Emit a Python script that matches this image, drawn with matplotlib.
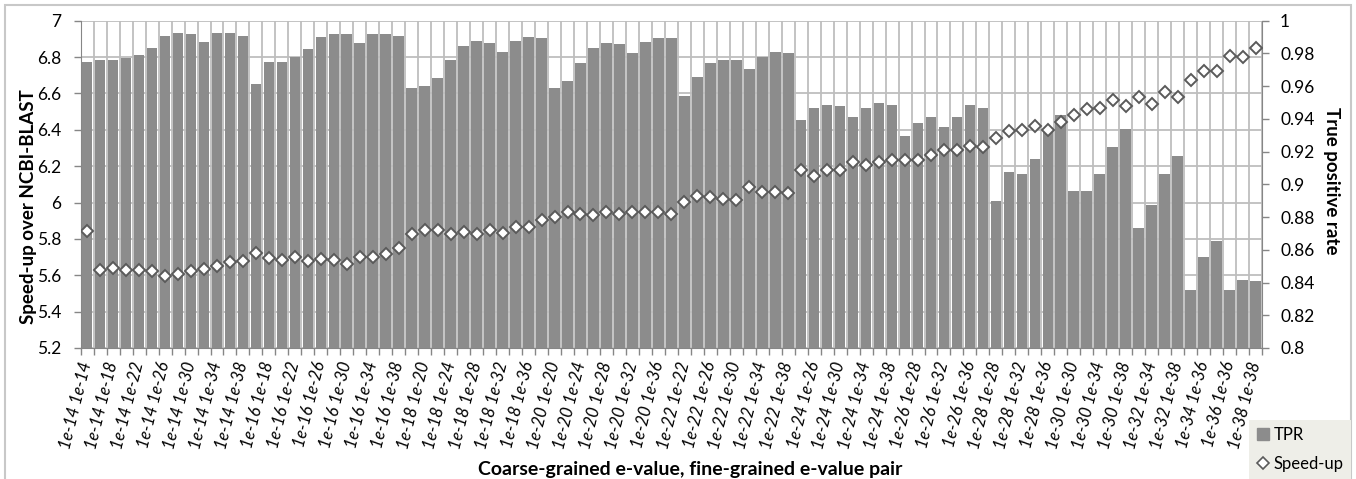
import numpy as np
import matplotlib
matplotlib.use("Agg")
import matplotlib.pyplot as plt
from matplotlib.patches import Rectangle, Patch
from matplotlib.lines import Line2D

plt.rcParams['font.family'] = ['Lato', 'DejaVu Sans']

# e-value exponents: coarse-grained, then fine-grained >= coarse
coarse_exp = list(range(14, 40, 2))
pairs = [(c, f) for c in coarse_exp for f in range(c, 40, 2)]
labels = ["1e-%d 1e-%d" % p for p in pairs]

# true positive rate (right axis)
tpr = [0.975, 0.976, 0.976, 0.977, 0.979, 0.9835, 0.9906, 0.9925, 0.9919, 0.9868,
       0.9925, 0.9925, 0.9906, 0.9611, 0.975, 0.975, 0.9776, 0.983, 0.990, 0.9919,
       0.9917, 0.9862, 0.9921, 0.9921, 0.9906, 0.9587, 0.9601, 0.9652, 0.9758, 0.9847,
       0.9876, 0.9862, 0.9809, 0.9876, 0.990, 0.9894, 0.9587, 0.9634, 0.9744, 0.9835,
       0.9862, 0.9856, 0.9803, 0.9868, 0.9894, 0.9894, 0.9542, 0.9658, 0.9744, 0.9762,
       0.9762, 0.9703, 0.9776, 0.9809, 0.9803, 0.9394, 0.9469, 0.9483, 0.9477, 0.9412,
       0.9469, 0.9497, 0.9483, 0.9296, 0.9373, 0.9412, 0.9353, 0.9412, 0.9483, 0.9465,
       0.8897, 0.9074, 0.9062, 0.9152, 0.9322, 0.9424, 0.8962, 0.8962, 0.9062, 0.9231,
       0.9337, 0.8734, 0.8873, 0.9062, 0.9172, 0.8352, 0.8553, 0.8651, 0.8352, 0.8417,
       0.8411]

# speed-up over NCBI-BLAST (left axis)
speedup = [5.842, 5.631, 5.642, 5.631, 5.631, 5.622, 5.598, 5.609, 5.622, 5.634,
           5.649, 5.671, 5.680, 5.722, 5.695, 5.682, 5.700, 5.678, 5.689, 5.684,
           5.662, 5.699, 5.700, 5.719, 5.750, 5.825, 5.851, 5.851, 5.825, 5.838,
           5.825, 5.847, 5.831, 5.866, 5.866, 5.904, 5.920, 5.946, 5.937, 5.930,
           5.946, 5.937, 5.946, 5.946, 5.946, 5.937, 6.005, 6.034, 6.029, 6.018,
           6.012, 6.084, 6.058, 6.058, 6.052, 6.177, 6.146, 6.181, 6.177, 6.221,
           6.206, 6.221, 6.236, 6.232, 6.236, 6.261, 6.287, 6.287, 6.313, 6.305,
           6.357, 6.392, 6.397, 6.423, 6.397, 6.441, 6.480, 6.514, 6.518, 6.562,
           6.529, 6.580, 6.542, 6.610, 6.579, 6.676, 6.725, 6.722, 6.804, 6.799,
           6.850]

speed_ticks = np.round(np.arange(5.2, 7.01, 0.2), 1)
tpr_ticks = np.round(np.arange(0.8, 1.001, 0.02), 2)

axis_grey = '#868686'
grid_grey = '#bebebe'
bar_grey = '#8c8c8c'

x = np.arange(len(pairs))

fig = plt.figure(figsize=(13.56, 4.79), dpi=100)
ax = fig.add_axes([0.0595, 0.2735, 0.8712, 0.6833])

# left axis: speed-up scale + gridlines
ax.set_xlim(-0.5, len(pairs) - 0.5)
ax.set_ylim(5.2, 7.0)
ax.set_yticks(speed_ticks)
ax.set_yticklabels(['%g' % t for t in speed_ticks])
ax.set_xticks(x[::2])
ax.set_xticklabels(labels[::2], rotation=76, ha='right', va='center',
                   rotation_mode='anchor', fontstyle='italic', fontsize=12)
ax.set_xticks(np.arange(-0.5, len(pairs)), minor=True)
ax.tick_params(axis='x', which='major', length=0, pad=10)
ax.tick_params(axis='x', which='minor', length=5, color=axis_grey, width=1)
ax.tick_params(axis='y', length=5, color=axis_grey, width=1, labelsize=12.5, pad=9)
ax.grid(axis='y', which='major', color=grid_grey, lw=1.3)
ax.grid(axis='x', which='minor', color=grid_grey, lw=1.3)
ax.set_axisbelow(True)
for s in ['top', 'right']:
    ax.spines[s].set_visible(False)
for s in ['left', 'bottom']:
    ax.spines[s].set_color(axis_grey)

# right axis: TPR bars
ax2 = ax.twinx()
ax2.bar(x, tpr, width=0.82, color=bar_grey, zorder=2)
ax2.set_ylim(0.8, 1.0)
ax2.set_yticks(tpr_ticks)
ax2.set_yticklabels(['%g' % t for t in tpr_ticks])
ax2.tick_params(axis='y', length=5, color=axis_grey, width=1, labelsize=12.5, pad=8)
for s in ['top', 'left', 'bottom']:
    ax2.spines[s].set_visible(False)
ax2.spines['right'].set_color(axis_grey)

# speed-up markers on top of the bars
ax3 = ax.twinx()
ax3.set_ylim(5.2, 7.0)
ax3.plot(x, speedup, ls='none', marker='D', ms=6.2, mfc='white',
         mec='#5a5a5a', mew=1.4, zorder=3)
ax3.axis('off')

fig.text(0.021, 0.568, 'Speed-up over NCBI-BLAST', rotation=90, ha='center',
         va='center', fontsize=13.5, fontweight='bold')
fig.text(0.982, 0.623, 'True positive rate', rotation=-90, ha='center',
         va='center', fontsize=13.5, fontweight='bold')
fig.text(0.509, 0.019, 'Coarse-grained e-value, fine-grained e-value pair',
         ha='center', va='center', fontsize=14, fontweight='bold')

# chart frame
fig.add_artist(Rectangle((5 / 1356, -0.1), 1346 / 1356, 1.1 - 5 / 479,
                         transform=fig.transFigure, fill=False,
                         ec='#c8c8c8', lw=1.5))

handles = [Patch(color=bar_grey, label='TPR'),
           Line2D([], [], ls='none', marker='D', ms=6, mfc='white',
                  mec='#5a5a5a', mew=1.2, label='Speed-up')]
leg = fig.legend(handles=handles, loc='lower right',
                 bbox_to_anchor=(1351 / 1356, 0.0), frameon=True,
                 fancybox=False, facecolor='#eeeee8', edgecolor='none',
                 framealpha=1, fontsize=12, handlelength=0.7,
                 handletextpad=0.3, borderpad=0.45, labelspacing=0.75,
                 borderaxespad=0)

fig.savefig('out.png', dpi=100)
